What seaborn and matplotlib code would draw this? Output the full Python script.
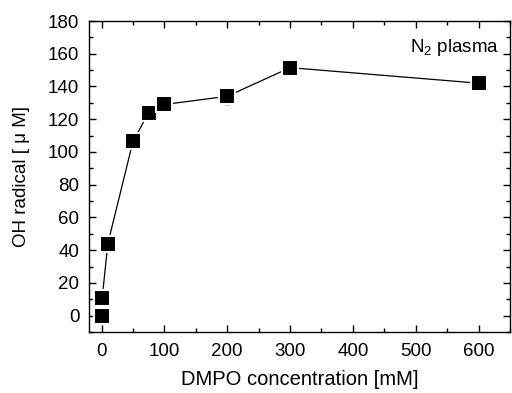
import matplotlib
matplotlib.use("Agg")
import matplotlib.pyplot as plt
import seaborn as sns
import pandas as pd
from matplotlib.ticker import MultipleLocator

dmpo = [0, 1, 10, 50, 75, 100, 200, 300, 600]
oh = [0, 11, 44, 106.5, 124, 129, 134, 151.5, 142]
err = [0, 0, 0, 0, 0, 0, 5, 3, 0]

df = pd.DataFrame({"DMPO": dmpo, "OH": oh, "err": err})

sns.set_theme(style="ticks")
plt.rcParams['font.family'] = ['Liberation Sans', 'Noto Sans CJK JP', 'DejaVu Sans']
plt.rcParams['mathtext.default'] = 'regular'
plt.rcParams['text.color'] = 'black'
plt.rcParams['axes.labelcolor'] = 'black'

fig = plt.figure(figsize=(5.12, 3.93), dpi=100)
ax = fig.add_axes([89/512, 1-332/393, (510-89)/512, (332-21)/393])

ax.errorbar(df["DMPO"], df["OH"], yerr=df["err"], fmt="none", ecolor="black",
            elinewidth=1, capsize=2, zorder=2)
sns.lineplot(data=df, x="DMPO", y="OH", ax=ax, color="black", linewidth=0.9,
             marker="s", markersize=12, markerfacecolor="black",
             markeredgecolor="white", markeredgewidth=1.5, zorder=3)

ax.set_xlim(-20, 650)
ax.set_ylim(-10, 180)
ax.xaxis.set_major_locator(MultipleLocator(100))
ax.xaxis.set_minor_locator(MultipleLocator(50))
ax.yaxis.set_major_locator(MultipleLocator(20))
ax.yaxis.set_minor_locator(MultipleLocator(10))
ax.tick_params(which="both", direction="in", top=True, right=True, labelsize=13.5,
               colors="black", width=1)
ax.tick_params(which="major", length=5)
ax.tick_params(which="minor", length=3)
ax.tick_params(axis="x", pad=8)
ax.tick_params(axis="y", pad=7)
for s in ax.spines.values():
    s.set_linewidth(1)
    s.set_color("black")

ax.set_xlabel("DMPO concentration [mM]", fontsize=14.5, labelpad=7)
ax.set_ylabel("OH radical [ μ M]", fontsize=13.5, labelpad=13)
ax.text(0.975, 0.915, r"N$_2$ plasma", transform=ax.transAxes, ha="right",
        va="center", fontsize=13.5)

fig.savefig("out.png", dpi=100)
